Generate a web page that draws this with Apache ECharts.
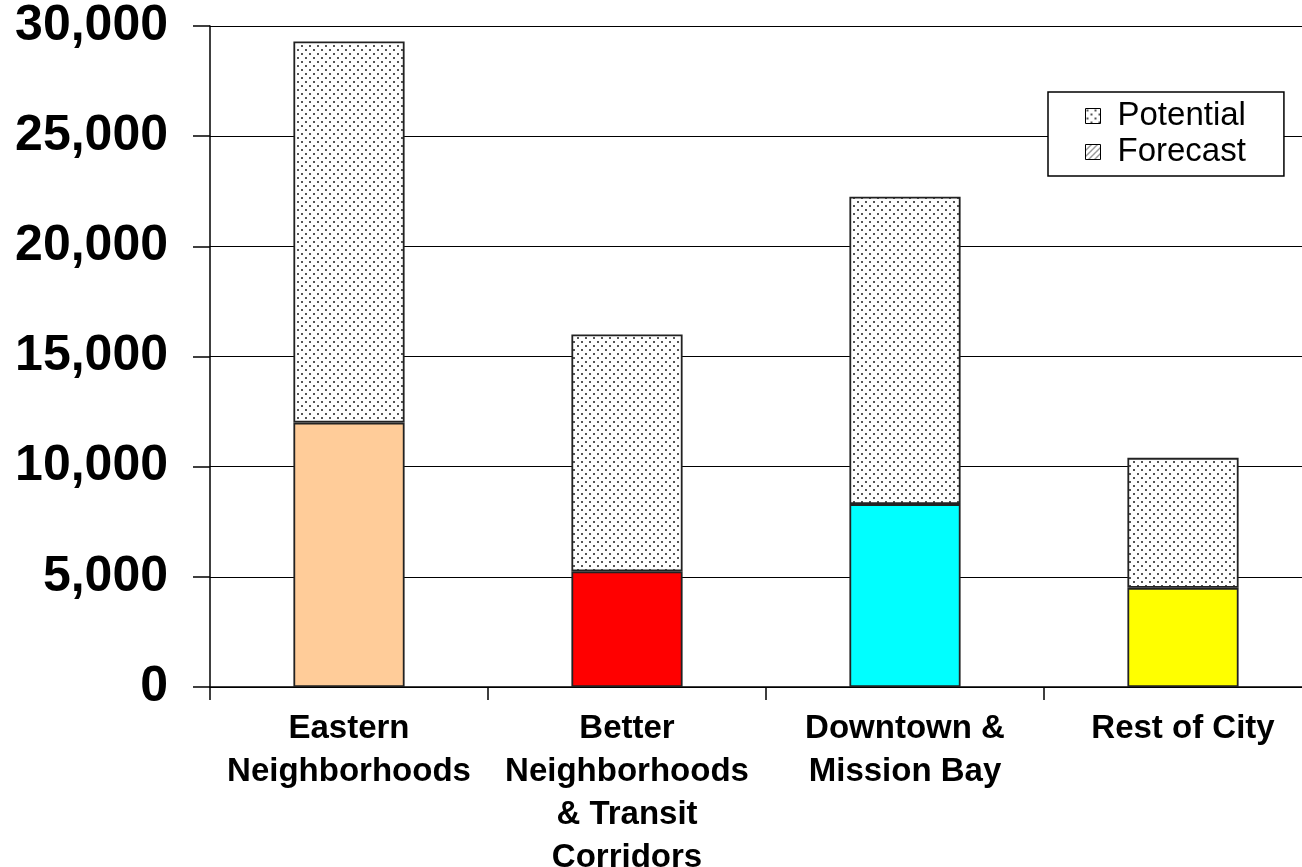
<!DOCTYPE html>
<html>
<head>
<meta charset="utf-8">
<script src="https://cdn.jsdelivr.net/npm/echarts@6/dist/echarts.min.js"></script>
<style>
  html, body { margin: 0; padding: 0; background: #ffffff; }
  #chart { width: 1302px; height: 867px; }
</style>
</head>
<body>
<div id="chart"></div>
<script>
// data
var categories = ['Eastern\nNeighborhoods', 'Better\nNeighborhoods\n& Transit\nCorridors', 'Downtown &\nMission Bay', 'Rest of City'];
var forecastValues = [12000, 5250, 8300, 4500];
var potentialValues = [17300, 10750, 13950, 5900];
var forecastColors = ['#FFCC99', '#FF0000', '#00FFFF', '#FFFF00'];

// dotted fill for "Potential"
function dotPattern() {
  var c = document.createElement('canvas');
  c.width = 8; c.height = 8;
  var ctx = c.getContext('2d');
  ctx.fillStyle = '#ffffff';
  ctx.fillRect(0, 0, 8, 8);
  ctx.fillStyle = '#555555';
  ctx.fillRect(1, 1, 2, 2);
  ctx.fillRect(5, 5, 2, 2);
  return c;
}

// hatch fill for the "Forecast" legend icon
function hatchPattern() {
  var c = document.createElement('canvas');
  c.width = 6; c.height = 6;
  var ctx = c.getContext('2d');
  ctx.fillStyle = '#ffffff';
  ctx.fillRect(0, 0, 6, 6);
  ctx.strokeStyle = '#333333';
  ctx.lineWidth = 1;
  ctx.beginPath();
  ctx.moveTo(0, 6); ctx.lineTo(6, 0);
  ctx.stroke();
  return c;
}

var chart = echarts.init(document.getElementById('chart'));

var option = {
  backgroundColor: '#ffffff',
  animation: false,
  textStyle: { fontFamily: 'Liberation Sans, Arial, sans-serif' },
  grid: {
    left: 210,
    top: 26,
    width: 1112,
    height: 661,
    outerBoundsMode: 'none'
  },
  legend: {
    orient: 'vertical',
    left: 1048,
    top: 92,
    data: [
      { name: 'Potential', itemStyle: { color: { image: dotPattern(), repeat: 'repeat' }, borderColor: '#000', borderWidth: 1 } },
      { name: 'Forecast', itemStyle: { color: { image: hatchPattern(), repeat: 'repeat' }, borderColor: '#000', borderWidth: 1 } }
    ],
    icon: 'rect',
    itemWidth: 15,
    itemHeight: 15,
    itemGap: 0,
    padding: [6, 38, 6, 37],
    borderColor: '#000000',
    borderWidth: 1.5,
    backgroundColor: '#ffffff',
    textStyle: {
      fontSize: 33,
      lineHeight: 36,
      padding: [0, 0, 0, 12],
      color: '#000000',
      fontFamily: 'Liberation Sans, Arial, sans-serif'
    }
  },
  xAxis: {
    type: 'category',
    data: categories,
    axisLine: { lineStyle: { color: '#000000', width: 1.5 } },
    axisTick: { show: true, length: 13, alignWithLabel: false, lineStyle: { color: '#000000', width: 1.5 } },
    axisLabel: {
      interval: 0,
      margin: 20,
      fontSize: 33,
      fontWeight: 'bold',
      lineHeight: 43,
      color: '#000000'
    }
  },
  yAxis: {
    type: 'value',
    min: 0,
    max: 30000,
    interval: 5000,
    axisLine: { show: true, lineStyle: { color: '#000000', width: 1.5 } },
    axisTick: { show: true, length: 17, lineStyle: { color: '#000000', width: 1.5 } },
    splitLine: { show: true, lineStyle: { color: '#000000', width: 1.2 } },
    axisLabel: {
      margin: 42,
      fontSize: 50,
      fontWeight: 'bold',
      color: '#000000',
      formatter: function (v) { return v.toLocaleString('en-US'); }
    }
  },
  series: [
    {
      name: 'Forecast',
      type: 'bar',
      stack: 'total',
      barWidth: '40%',
      data: forecastValues.map(function (v, i) {
        return { value: v, itemStyle: { color: forecastColors[i] } };
      }),
      itemStyle: { borderColor: '#222222', borderWidth: 1.8 }
    },
    {
      name: 'Potential',
      type: 'bar',
      stack: 'total',
      barWidth: '40%',
      data: potentialValues,
      itemStyle: {
        color: { image: dotPattern(), repeat: 'repeat' },
        borderColor: '#222222',
        borderWidth: 1.8
      }
    }
  ]
};

chart.setOption(option);
</script>
</body>
</html>
